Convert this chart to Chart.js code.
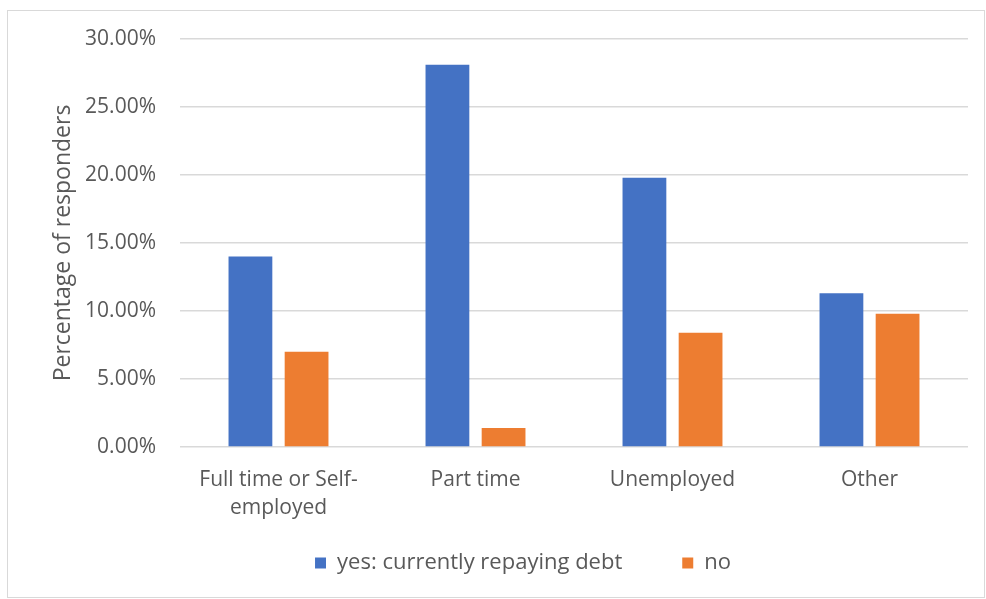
<!DOCTYPE html>
<html>
<head>
<meta charset="utf-8">
<script src="https://cdn.jsdelivr.net/npm/chart.js@4"></script>
<style>
  html, body { margin: 0; padding: 0; background: #ffffff; }
  #box { position: absolute; left: 0; top: 0; width: 986px; height: 599px; }
  #rand { position: absolute; left: 7px; top: 10px; width: 976px; height: 586px;
          border: 1px solid #d9d9d9; pointer-events: none; }
</style>
</head>
<body>
<div id="box"><canvas id="grafico" width="986" height="599"></canvas></div>
<div id="rand"></div>
<script>
// dados
const categorias = [['Full time or Self-', 'employed'], 'Part time', 'Unemployed', 'Other'];
const valoresSim = [14.0, 28.1, 19.8, 11.3];
const valoresNao = [7.0, 1.4, 8.4, 9.8];
const nomesSeries = ['yes: currently repaying debt', 'no'];
const tituloEixoY = 'Percentage of responders';

const corTexto = '#595959';
const familia = "'Open Sans', sans-serif";
const fonte = { family: familia, size: 21 };

// sobe a legenda (o espaço grande entre os itens vem do padding) e desloca um pouco para a direita
const ajustarLegenda = {
    id: 'ajustarLegenda',
    afterLayout(chart) {
        if (chart.legend) {
            chart.legend.top -= 48;
            chart.legend.left += 14;
            chart.legend.right += 14;
        }
    }
};

const ctx = document.getElementById('grafico').getContext('2d');

new Chart(ctx, {
    type: 'bar',
    data: {
        labels: categorias,
        datasets: [
            { label: nomesSeries[0], data: valoresSim, backgroundColor: '#4472C4' },
            { label: nomesSeries[1], data: valoresNao, backgroundColor: '#ED7D31' }
        ]
    },
    plugins: [ajustarLegenda],
    options: {
        responsive: false,
        animation: false,
        categoryPercentage: 0.57,
        barPercentage: 0.78,
        layout: { padding: { left: 50, right: 18, top: 39, bottom: 0 } },
        plugins: {
            legend: {
                position: 'bottom',
                maxHeight: 59,
                labels: {
                    font: { family: familia, size: 22 },
                    color: corTexto,
                    boxWidth: 11,
                    boxHeight: 11,
                    padding: 60
                }
            },
            tooltip: { enabled: false }
        },
        scales: {
            x: {
                grid: { display: false },
                border: { display: false },
                ticks: {
                    font: { family: familia, size: 21, lineHeight: 1.33 },
                    color: corTexto,
                    padding: 11,
                    maxRotation: 0
                },
                afterFit: (escala) => { escala.height = 93; }
            },
            y: {
                min: 0,
                max: 30,
                ticks: {
                    stepSize: 5,
                    font: fonte,
                    color: corTexto,
                    padding: 24,
                    callback: (v) => v.toFixed(2) + '%'
                },
                grid: { color: '#d9d9d9', lineWidth: 1.5, drawTicks: false },
                border: { display: false },
                title: {
                    display: true,
                    text: tituloEixoY,
                    font: { family: familia, size: 23 },
                    color: corTexto,
                    padding: 0
                },
                afterFit: (escala) => { escala.width = 130; }
            }
        }
    }
});
</script>
</body>
</html>
